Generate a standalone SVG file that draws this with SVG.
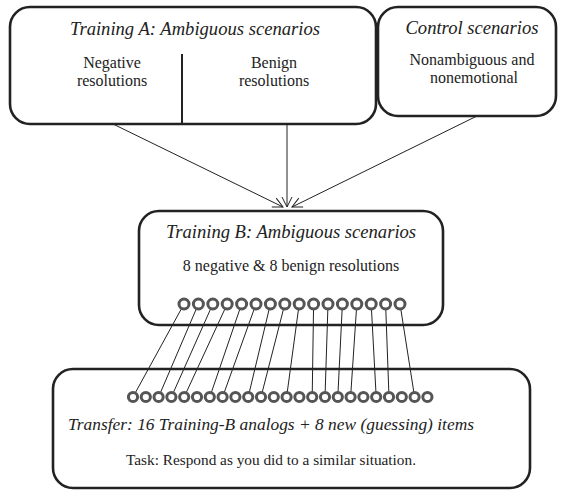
<svg xmlns="http://www.w3.org/2000/svg" width="562" height="492" viewBox="0 0 562 492">
<defs>
<style>
.box{fill:none;stroke:#222;stroke-width:2.6}
.div{stroke:#222;stroke-width:2}
text{font-family:'Liberation Serif','Times New Roman',Times,serif;fill:#222;text-anchor:middle}
.ttl{font-style:italic;font-size:18.6px}
.ttl2{font-style:italic;font-size:17.4px}
.txt{font-size:16px}
.txt2{font-size:15.3px}
.con line{stroke:#222;stroke-width:1}
.arr{fill:none;stroke:#222;stroke-width:1}
.ring{fill:#fff;stroke:#555;stroke-width:3}
</style>
<marker id="ah" viewBox="0 0 12 12" refX="11" refY="6" markerWidth="12" markerHeight="12" markerUnits="userSpaceOnUse" orient="auto">
<path d="M1,1 L11,6 L1,11" fill="none" stroke="#222" stroke-width="1"/>
</marker>
</defs>
<rect width="562" height="492" fill="#fff"/>

<g id="connectors">
<line class="arr" x1="113" y1="124" x2="283" y2="207" marker-end="url(#ah)"/>
<line class="arr" x1="287" y1="124" x2="287" y2="207" marker-end="url(#ah)"/>
<line class="arr" x1="477" y1="116" x2="292" y2="207" marker-end="url(#ah)"/>
<g class="con">
<line x1="184" y1="304" x2="133" y2="397"/>
<line x1="198.4" y1="304" x2="158.6" y2="397"/>
<line x1="212.8" y1="304" x2="171.4" y2="397"/>
<line x1="227.2" y1="304" x2="184.2" y2="397"/>
<line x1="241.6" y1="304" x2="209.8" y2="397"/>
<line x1="256" y1="304" x2="222.6" y2="397"/>
<line x1="270.4" y1="304" x2="248.2" y2="397"/>
<line x1="284.8" y1="304" x2="261" y2="397"/>
<line x1="299.2" y1="304" x2="286.6" y2="397"/>
<line x1="313.6" y1="304" x2="312.2" y2="397"/>
<line x1="328" y1="304" x2="325" y2="397"/>
<line x1="342.4" y1="304" x2="337.8" y2="397"/>
<line x1="356.8" y1="304" x2="350.6" y2="397"/>
<line x1="371.2" y1="304" x2="376.2" y2="397"/>
<line x1="385.6" y1="304" x2="389" y2="397"/>
<line x1="400" y1="304" x2="414.6" y2="397"/>
</g>
</g>

<g id="trainingA">
<rect class="box" x="10" y="7" width="366" height="117" rx="20"/>
<line class="div" x1="182" y1="54" x2="182" y2="124"/>
<text class="ttl" x="195" y="35">Training A: Ambiguous scenarios</text>
<text class="txt" x="112" y="68">Negative</text>
<text class="txt" x="112" y="86">resolutions</text>
<text class="txt" x="274" y="68">Benign</text>
<text class="txt" x="274" y="86">resolutions</text>
</g>

<g id="control">
<rect class="box" x="378" y="7" width="178" height="109" rx="20"/>
<text class="ttl" x="472" y="34">Control scenarios</text>
<text class="txt" x="472" y="65">Nonambiguous and</text>
<text class="txt" x="474" y="83">nonemotional</text>
</g>

<g id="trainingB">
<rect class="box" x="139" y="211" width="304" height="114" rx="20"/>
<text class="ttl" x="291" y="238">Training B: Ambiguous scenarios</text>
<text class="txt" x="291" y="271">8 negative &amp; 8 benign resolutions</text>
<g>
<circle class="ring" cx="184" cy="304" r="5"/>
<circle class="ring" cx="198.4" cy="304" r="5"/>
<circle class="ring" cx="212.8" cy="304" r="5"/>
<circle class="ring" cx="227.2" cy="304" r="5"/>
<circle class="ring" cx="241.6" cy="304" r="5"/>
<circle class="ring" cx="256" cy="304" r="5"/>
<circle class="ring" cx="270.4" cy="304" r="5"/>
<circle class="ring" cx="284.8" cy="304" r="5"/>
<circle class="ring" cx="299.2" cy="304" r="5"/>
<circle class="ring" cx="313.6" cy="304" r="5"/>
<circle class="ring" cx="328" cy="304" r="5"/>
<circle class="ring" cx="342.4" cy="304" r="5"/>
<circle class="ring" cx="356.8" cy="304" r="5"/>
<circle class="ring" cx="371.2" cy="304" r="5"/>
<circle class="ring" cx="385.6" cy="304" r="5"/>
<circle class="ring" cx="400" cy="304" r="5"/>
</g>
</g>

<g id="transfer">
<rect class="box" x="53" y="369" width="477" height="119" rx="20"/>
<text class="ttl2" x="271" y="430">Transfer: 16 Training-B analogs + 8 new (guessing) items</text>
<text class="txt2" x="271" y="465">Task:  Respond as you did to a similar situation.</text>
<g>
<circle class="ring" cx="133" cy="397" r="4.6"/>
<circle class="ring" cx="145.8" cy="397" r="4.6"/>
<circle class="ring" cx="158.6" cy="397" r="4.6"/>
<circle class="ring" cx="171.4" cy="397" r="4.6"/>
<circle class="ring" cx="184.2" cy="397" r="4.6"/>
<circle class="ring" cx="197" cy="397" r="4.6"/>
<circle class="ring" cx="209.8" cy="397" r="4.6"/>
<circle class="ring" cx="222.6" cy="397" r="4.6"/>
<circle class="ring" cx="235.4" cy="397" r="4.6"/>
<circle class="ring" cx="248.2" cy="397" r="4.6"/>
<circle class="ring" cx="261" cy="397" r="4.6"/>
<circle class="ring" cx="273.8" cy="397" r="4.6"/>
<circle class="ring" cx="286.6" cy="397" r="4.6"/>
<circle class="ring" cx="299.4" cy="397" r="4.6"/>
<circle class="ring" cx="312.2" cy="397" r="4.6"/>
<circle class="ring" cx="325" cy="397" r="4.6"/>
<circle class="ring" cx="337.8" cy="397" r="4.6"/>
<circle class="ring" cx="350.6" cy="397" r="4.6"/>
<circle class="ring" cx="363.4" cy="397" r="4.6"/>
<circle class="ring" cx="376.2" cy="397" r="4.6"/>
<circle class="ring" cx="389" cy="397" r="4.6"/>
<circle class="ring" cx="401.8" cy="397" r="4.6"/>
<circle class="ring" cx="414.6" cy="397" r="4.6"/>
<circle class="ring" cx="427.4" cy="397" r="4.6"/>
</g>
</g>
</svg>
